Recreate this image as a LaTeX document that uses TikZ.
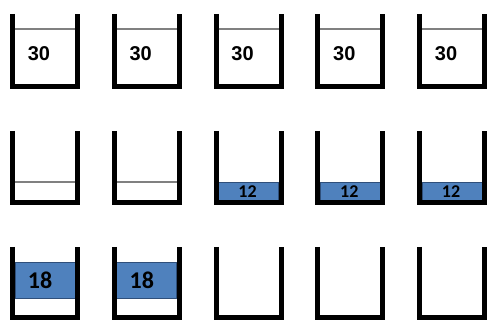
\documentclass[tikz,border=0pt]{standalone}
\usepackage{fontspec}
\newfontfamily\numfont{Liberation Sans}
\newfontfamily\calfont{Carlito}
\usetikzlibrary{positioning}
\definecolor{waterblue}{HTML}{4F81BD}
\definecolor{waterline}{HTML}{2F4F7A}

\begin{document}
\begin{tikzpicture}[
  x=1pt, y=-1pt,
  wall/.style={line width=5pt, line join=miter},
  level/.style={draw=gray, line width=1.2pt},
  water/.style={fill=waterblue, draw=waterline, line width=0.8pt},
  full/.style={font=\numfont\bfseries\fontsize{20}{20}\selectfont},
  part/.style={font=\calfont\bfseries\fontsize{18}{18}\selectfont},
  half/.style={font=\calfont\bfseries\fontsize{24}{24}\selectfont}
]
\useasboundingbox (0,0) rectangle (487,320);
% row 1: five full pails
\foreach \i in {0,...,4} {
  \pgfmathsetmacro{\px}{10+\i*101.75}
  \draw[wall] (\px+2.5,14) -- (\px+2.5,86.5) -- (\px+67.5,86.5) -- (\px+67.5,14);
  \draw[level] (\px+5,29) -- (\px+65,29);
  \node[full] (f\i) at (\px+29,54) {30};
}
% row 2: two empty, three with 12
\foreach \i in {0,1} {
  \pgfmathsetmacro{\px}{10+\i*101.75}
  \draw[level] (\px+5,182) -- (\px+65,182);
}
\foreach \i in {2,3,4} {
  \pgfmathsetmacro{\px}{10+\i*101.75}
  \draw[water] (\px+5,182) rectangle (\px+65,200.5);
  \node[part] (p\i) at (\px+34,192) {12};
}
\foreach \i in {0,...,4} {
  \pgfmathsetmacro{\px}{10+\i*101.75}
  \draw[wall] (\px+2.5,131) -- (\px+2.5,202.5) -- (\px+67.5,202.5) -- (\px+67.5,131);
}
% row 3: two with 18, three empty
\foreach \i in {0,1} {
  \pgfmathsetmacro{\px}{10+\i*101.75}
  \draw[water] (\px+5,262) rectangle (\px+65,298);
  \node[half] (h\i) at (\px+30,280) {18};
}
\foreach \i in {0,...,4} {
  \pgfmathsetmacro{\px}{10+\i*101.75}
  \draw[wall] (\px+2.5,247) -- (\px+2.5,317.5) -- (\px+67.5,317.5) -- (\px+67.5,247);
}
\end{tikzpicture}
\end{document}
